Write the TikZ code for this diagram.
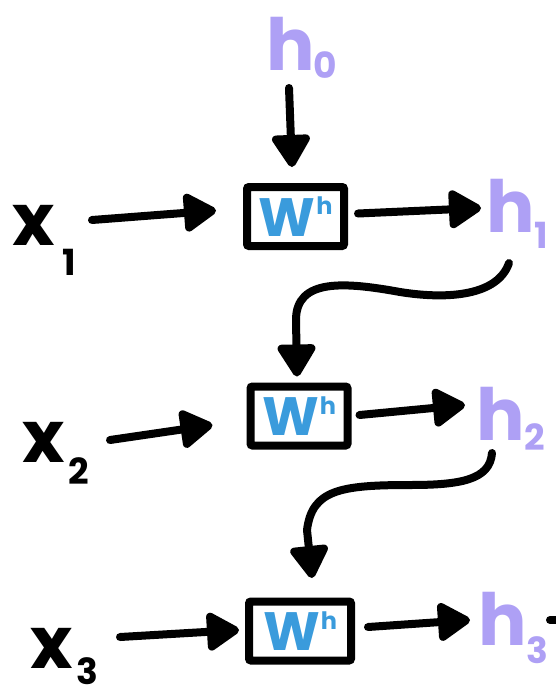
\documentclass[tikz,border=0pt]{standalone}
\usepackage{fontspec}
\setmainfont{Poppins}
\usetikzlibrary{arrows.meta,calc}
\definecolor{lav}{HTML}{AEA0F5}
\definecolor{wblue}{HTML}{3A9BDC}
\begin{document}
\begin{tikzpicture}[x=1pt,y=-1pt,
  cell/.style={draw=black, line width=8pt, minimum width=97pt, minimum height=59pt,
    inner sep=0pt, rounded corners=2pt, text=wblue, font=\bfseries\fontsize{54}{54}\selectfont},
  xlbl/.style={inner sep=0pt, anchor=base west, text=black, font=\bfseries\fontsize{72}{72}\selectfont},
  hlbl/.style={inner sep=0pt, anchor=base west, text=lav, font=\bfseries\fontsize{72}{72}\selectfont},
  conn/.style={line width=8pt, line cap=round, line join=round,
    -{Triangle[length=36pt,width=42pt,round]}},
  tail/.style={line width=8pt, line cap=round}]
\useasboundingbox (0,0) rectangle (556,697);
\newcommand{\Wh}{W\kern1pt\raisebox{0.4em}{\fontsize{24}{24}\selectfont h}}
\newcommand{\subs}[2]{\raisebox{-#1pt}{\fontsize{36}{36}\selectfont #2}}
% boxes
\node[cell] (w1) at (295.5,216.5) {\Wh};
\node[cell] (w2) at (299,416) {\Wh};
\node[cell, minimum width=102pt] (w3) at (300,631) {\Wh};
% labels
\node[hlbl] (h0) at (266,70) {h\kern-1pt\subs{8}{0}};
\node[xlbl] (x1) at (12,245) {x\kern8pt\subs{30}{1}};
\node[hlbl] (h1) at (486,232) {h\kern0pt\subs{16}{1}};
\node[xlbl] (x2) at (22,462) {x\kern4pt\subs{22}{2}};
\node[hlbl] (h2) at (476,440) {h\kern0pt\subs{10}{2}};
\node[xlbl] (x3) at (30,668) {x\kern4pt\subs{16}{3}};
\node[hlbl] (h3) at (478,645) {h\kern0pt\subs{18}{3}};
% connectors
\draw[conn] ($(h0.base west)+(23,18)$) -- ($(w1.north)+(-3.5,-16)$);
\draw[conn] ($(x1.base west)+(80,-25)$) -- ($(w1.west)+(-27,-6)$);
\draw[conn] ($(w1.east)+(10,-3)$) -- ($(h1.base west)+(-5,-24)$);
\draw[conn] ($(h1.base west)+(23,31)$) .. controls (498,295) and (450,300) .. (400,292)
  .. controls (345,282) and (296,278) .. (296,320) -- ($(w2.north)+(-2,-6)$);
\draw[conn] ($(x2.base west)+(88,-22)$) -- ($(w2.west)+(-34,9)$);
\draw[conn] ($(w2.east)+(8,-1)$) -- ($(h2.base west)+(-11,-35)$);
\draw[conn] ($(h2.base west)+(16,13)$) .. controls (490,480) and (460,485) .. (410,485)
  .. controls (340,485) and (312,490) .. (307,530) -- ($(w3.north)+(12,-19.5)$);
\draw[conn] ($(x3.base west)+(90,-31)$) -- ($(w3.west)+(-6,-1)$);
\draw[conn] ($(w3.east)+(13,-4)$) -- ($(h3.base west)+(-8,-25)$);
\coordinate (tailend) at ($(h3.base west)+(82,-25)$);
\draw[tail] ($(h3.base west)+(72,-25)$) -- (tailend);
\end{tikzpicture}
\end{document}
